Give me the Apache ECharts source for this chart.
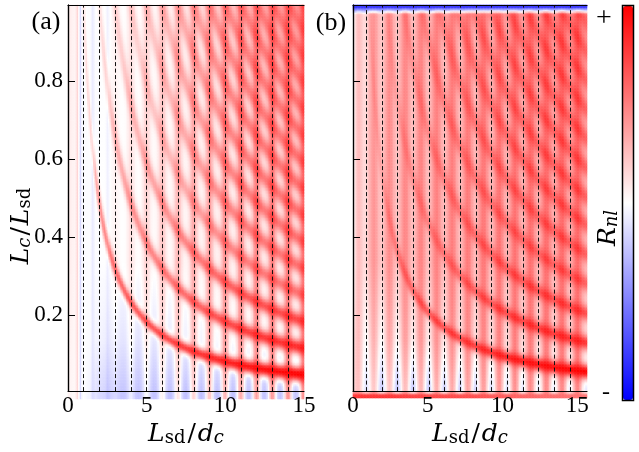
<!DOCTYPE html>
<html>
<head>
<meta charset="utf-8">
<script src="https://cdn.jsdelivr.net/npm/echarts@6/dist/echarts.min.js"></script>
<style>
  html, body { margin: 0; background: #fff; }
  #main { width: 639px; height: 452px; }
</style>
</head>
<body>
<div id="main"></div>
<script>
// ---- axes ----
const xTicks = [0, 5, 10, 15];
const yTicks = [0.2, 0.4, 0.6, 0.8];
const xMaxA = 15, xMaxB = 15.66;
const yMin = 0.005, yMax = 0.995;

// dashed guide lines (Lsd/dc)
const dashA = [1, 2, 3, 4, 5, 6, 7, 8, 9, 10, 11, 12, 13, 14];
const dashB = [0.89, 1.94, 2.99, 4.03, 5.08, 6.13, 7.18, 8.22, 9.27, 10.32, 11.37, 12.42, 13.46, 14.51];

// resonance curves, Lc/dc value of each red arc
const curvesA = [1, 2, 3, 4, 5, 6, 7, 8, 9, 10, 11, 12, 13, 14, 15];
const curvesB = [1.12, 2.26, 3.42, 4.6, 5.75, 6.9, 8.0, 9.15, 10.3, 11.45, 12.6, 13.75, 14.9, 16.0];

// vertical red ridges
const ridgesA = [1, 2, 3, 4, 5, 6, 7, 8, 9, 10, 11, 12, 13, 14, 15];
const ridgesB = [0.36, 1.41, 2.46, 3.51, 4.56, 5.61, 6.65, 7.7, 8.75, 9.8, 10.85, 11.9, 12.95, 14.0, 15.04];

// strengths read along x (panel a)
const nodesA   = [0, 1, 1.5, 2, 3, 4, 6, 8, 10, 12, 15];
const arc1A    = [0, 0.12, 0.2, 0.42, 0.58, 0.63, 0.7, 0.78, 0.86, 0.93, 1.0];
const arc2A    = [0, 0, 0, 0.12, 0.28, 0.4, 0.5, 0.6, 0.7, 0.77, 0.84];
const arc3A    = [0, 0, 0, 0, 0.15, 0.26, 0.38, 0.5, 0.6, 0.67, 0.74];
const arcHiA   = [0, 0, 0, 0, 0.1, 0.16, 0.24, 0.34, 0.44, 0.5, 0.56];
const arcWA    = [1, 1, 1.1, 1.5, 2.2, 2.6, 3.2, 3.8, 4.3, 4.7, 5.2];
const ridgeA   = [0, 0, 0, 0, 0.05, 0.12, 0.22, 0.32, 0.4, 0.46, 0.52];
const bgTopA   = [0.08, -0.01, -0.01, -0.01, 0, 0, 0.02, 0.04, 0.05, 0.06, 0.06];
const bgMidA   = [0.06, 0, -0.02, -0.05, -0.1, -0.12, -0.1, -0.06, -0.02, 0, 0];
const bgLowA   = [0.05, 0, -0.06, -0.15, -0.22, -0.24, -0.25, -0.26, -0.26, -0.25, -0.24];
const streakXA = [0.62, 0.8, 1.6, 2.55];
const streakVA = [0.14, -0.16, -0.08, -0.06];

// strengths read along x (panel b)
const nodesB   = [0, 1, 2, 3, 4, 6, 8, 10, 12, 15.7];
const arc1B    = [0, 0.1, 0.2, 0.45, 0.55, 0.65, 0.72, 0.82, 0.9, 1.0];
const arc2B    = [0, 0, 0.08, 0.2, 0.3, 0.44, 0.56, 0.66, 0.73, 0.8];
const arc3B    = [0, 0, 0.12, 0.2, 0.28, 0.38, 0.5, 0.58, 0.64, 0.7];
const arcHiB   = [0, 0.05, 0.18, 0.26, 0.32, 0.38, 0.45, 0.5, 0.55, 0.6];
const arcWB    = [1, 1.3, 1.8, 2.3, 2.7, 3.3, 3.9, 4.3, 4.7, 5.2];
const ridgeB   = [0.25, 0.32, 0.35, 0.37, 0.4, 0.42, 0.45, 0.48, 0.5, 0.52];
const bgTopB   = [-0.14, 0.16, 0.2, 0.21, 0.22, 0.23, 0.24, 0.25, 0.26, 0.26];
const bgMidB   = [0.0, -0.04, -0.04, -0.02, 0.02, 0.05, 0.08, 0.1, 0.12, 0.12];
const bgLowB   = [0.05, -0.2, -0.28, -0.3, -0.3, -0.28, -0.26, -0.22, -0.18, -0.14];
const edgeRedB = [0.8, 0.8, 0.8, 0.78, 0.75, 0.72, 0.7, 0.65, 0.6, 0.55];
const edgeBlueB = -0.8;

const FONT = "'Liberation Serif', 'DejaVu Serif', serif";
const MATH = "'DejaVu Serif', serif";
const gA = { left: 68, top: 5, width: 236, height: 394 };
const gB = { left: 353, top: 5, width: 234, height: 393 };

function lerp(xs, vs, x) {
  if (x <= xs[0]) return vs[0];
  for (let i = 1; i < xs.length; i++) {
    if (x <= xs[i]) {
      const t = (x - xs[i - 1]) / (xs[i] - xs[i - 1]);
      return vs[i - 1] + t * (vs[i] - vs[i - 1]);
    }
  }
  return vs[vs.length - 1];
}
const clamp01 = v => Math.max(0, Math.min(1, v));

const panelA = {
  xs: nodesA, curves: curvesA, amp: [arc1A, arc2A, arc3A, arcHiA], width: arcWA,
  ridges: ridgesA, ridge: ridgeA, ridgeW: 0.17,
  bg: [bgLowA, bgMidA, bgTopA], streakX: streakXA, streakV: streakVA,
  sx: gA.width / xMaxA, sy: gA.height / (yMax - yMin)
};
const panelB = {
  xs: nodesB, curves: curvesB, amp: [arc1B, arc2B, arc3B, arcHiB], width: arcWB,
  ridges: ridgesB, ridge: ridgeB, ridgeW: 0.24,
  bg: [bgLowB, bgMidB, bgTopB], streakX: [], streakV: [],
  edgeRed: edgeRedB, edgeBlue: edgeBlueB,
  sx: gB.width / xMaxB, sy: gB.height / (yMax - yMin)
};

function field(P, x, y) {
  const sig = lerp(P.xs, P.width, x);
  let c = 0;
  P.curves.forEach((k, i) => {
    const dy = Math.abs(y - k / x) * P.sy;
    const dx = Math.abs(x - k / y) * P.sx;
    const d = dx * dy / Math.sqrt(dx * dx + dy * dy + 1e-9);
    const a = lerp(P.xs, P.amp[Math.min(i, 3)], x);
    c = 1 - (1 - c) * (1 - a * Math.exp(-d * d / (2 * sig * sig)));
  });
  let s = 0;
  P.ridges.forEach(r => {
    const d = (x - r) / P.ridgeW;
    s = Math.max(s, Math.exp(-d * d / 2));
  });
  s *= lerp(P.xs, P.ridge, x);
  const red = 1 - (1 - c) * (1 - s);
  const bg = lerp([0.02, 0.15, 0.35], P.bg.map(row => lerp(P.xs, row, x)), y);
  let v = red + bg * Math.max(0, 1 - 1.5 * red);
  P.streakX.forEach((sx0, i) => {
    const d = (x - sx0) / 0.06;
    v += P.streakV[i] * Math.exp(-d * d / 2);
  });
  if (P.edgeRed) {
    const t = clamp01((0.024 - y) / 0.012);
    v = v * (1 - t) + lerp(P.xs, P.edgeRed, x) * t;
  }
  if (P.edgeBlue) {
    const t = clamp01((y - 0.972) / 0.018);
    v = v * (1 - t) + P.edgeBlue * t;
  }
  return Math.max(-1, Math.min(1, v));
}

function buildCells(P, nx, ny, xMax) {
  const out = [];
  for (let i = 0; i < nx; i++) {
    const x = (i + 0.5) * xMax / nx;
    for (let j = 0; j < ny; j++) {
      const y = yMin + (j + 0.5) * (yMax - yMin) / ny;
      out.push([i, j, +field(P, x, y).toFixed(3)]);
    }
  }
  return out;
}

const nxA = 158, nyA = 263, nxB = 156, nyB = 262;
const cellsA = buildCells(panelA, nxA, nyA, xMaxA);
const cellsB = buildCells(panelB, nxB, nyB, xMaxB);
const idx = n => Array.from({ length: n }, (_, i) => i);

const rich = {
  i:  { fontFamily: MATH, fontStyle: 'italic', fontSize: 25, lineHeight: 30, verticalAlign: 'bottom', color: '#000' },
  n:  { fontFamily: MATH, fontSize: 25, lineHeight: 30, verticalAlign: 'bottom', color: '#000', padding: [0, 2, 0, 2] },
  s:  { fontFamily: MATH, fontSize: 18, lineHeight: 14, verticalAlign: 'bottom', color: '#000' },
  si: { fontFamily: MATH, fontStyle: 'italic', fontSize: 18, lineHeight: 14, verticalAlign: 'bottom', color: '#000' }
};
const black = { show: true, lineStyle: { color: '#000', width: 1.2 } };

function bottomX(grid, max) {
  return {
    type: 'value', gridIndex: grid, min: 0, max: max, z: 10,
    axisLine: black, splitLine: { show: false }, axisTick: { show: false },
    axisLabel: { customValues: xTicks, fontFamily: FONT, fontSize: 23, color: '#000', margin: 3 },
    name: '{i|L}{s|sd}{n|/}{i|d}{si|c}', nameLocation: 'middle', nameGap: 23,
    nameTextStyle: { rich: rich }
  };
}
function topX(grid, max) {
  return {
    type: 'value', gridIndex: grid, min: 0, max: max, position: 'top', z: 10,
    axisLine: black, splitLine: { show: false }, axisTick: { show: false }, axisLabel: { show: false }
  };
}
function leftY(grid, labels) {
  return {
    type: 'value', gridIndex: grid, min: yMin, max: yMax, z: 10,
    axisLine: black, splitLine: { show: false },
    axisTick: { show: true, inside: true, length: 7, customValues: yTicks, lineStyle: { color: '#000' } },
    axisLabel: { show: labels, customValues: yTicks, formatter: v => v.toFixed(1),
                 fontFamily: FONT, fontSize: 23, color: '#000', margin: 5 }
  };
}
function rightY(grid) {
  return {
    type: 'value', gridIndex: grid, min: yMin, max: yMax, position: 'right', z: 10,
    axisLine: black, splitLine: { show: false }, axisTick: { show: false }, axisLabel: { show: false }
  };
}
function dashSeries(xi, yi, xs) {
  return {
    type: 'line', xAxisIndex: xi, yAxisIndex: yi, z: 5, silent: true,
    data: [[xs[0], yMin]], symbol: 'none', lineStyle: { opacity: 0 },
    markLine: {
      silent: true, symbol: ['none', 'none'], label: { show: false }, animation: false,
      lineStyle: { color: '#111', type: [4, 2.5], width: 1 },
      data: xs.map(x => ({ xAxis: x }))
    }
  };
}

const chart = echarts.init(document.getElementById('main'));
chart.setOption({
  animation: false,
  grid: [gA, gB, gA, gB],
  xAxis: [
    { type: 'category', gridIndex: 0, data: idx(nxA), show: false },
    { type: 'category', gridIndex: 1, data: idx(nxB), show: false },
    bottomX(2, xMaxA), topX(2, xMaxA),
    bottomX(3, xMaxB), topX(3, xMaxB)
  ],
  yAxis: [
    { type: 'category', gridIndex: 0, data: idx(nyA), show: false },
    { type: 'category', gridIndex: 1, data: idx(nyB), show: false },
    leftY(2, true), rightY(2),
    leftY(3, false), rightY(3)
  ],
  visualMap: {
    type: 'continuous', min: -1, max: 1, seriesIndex: [0, 1], dimension: 2,
    calculable: false, hoverLink: false, text: null, padding: 0,
    orient: 'vertical', left: 623, top: 6, itemWidth: 10, itemHeight: 394,
    inRange: { color: ['#0000ff', '#ffffff', '#ff0000'] }
  },
  series: [
    { type: 'heatmap', xAxisIndex: 0, yAxisIndex: 0, data: cellsA, progressive: 0, silent: true },
    { type: 'heatmap', xAxisIndex: 1, yAxisIndex: 1, data: cellsB, progressive: 0, silent: true },
    dashSeries(2, 2, dashA),
    dashSeries(4, 4, dashB)
  ],
  graphic: [
    { type: 'text', x: 46, y: 22, style: { text: '(a)', font: '26px ' + FONT, fill: '#000', align: 'center', verticalAlign: 'middle' } },
    { type: 'text', x: 331, y: 23, style: { text: '(b)', font: '26px ' + FONT, fill: '#000', align: 'center', verticalAlign: 'middle' } },
    { type: 'text', x: 19, y: 226, rotation: Math.PI / 2,
      style: { text: '{i|L}{si|c}{n|/}{i|L}{s|sd}', rich: rich, align: 'center', verticalAlign: 'middle' } },
    { type: 'text', x: 604, y: 19, style: { text: '+', font: '28px ' + FONT, fill: '#000', align: 'center', verticalAlign: 'middle' } },
    { type: 'text', x: 606, y: 393, style: { text: '-', font: '24px ' + FONT, fill: '#000', align: 'center', verticalAlign: 'middle' } },
    { type: 'text', x: 606, y: 228, rotation: Math.PI / 2,
      style: { text: '{i|R}{si|nl}', rich: rich, align: 'center', verticalAlign: 'middle' } },
    { type: 'rect', shape: { x: 622.5, y: 5.5, width: 11, height: 395 }, z: 100,
      style: { fill: 'none', stroke: '#000', lineWidth: 1.5 } }
  ]
});
</script>
</body>
</html>
